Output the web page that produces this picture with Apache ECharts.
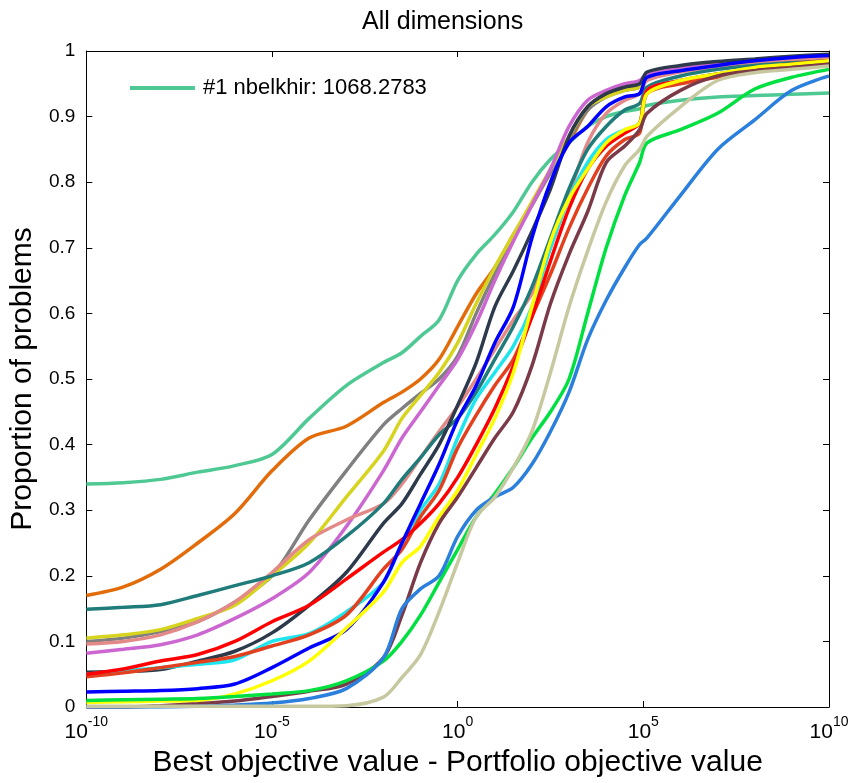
<!DOCTYPE html>
<html>
<head>
  <meta charset="utf-8">
  <title>All dimensions</title>
  <script src="https://cdn.jsdelivr.net/npm/echarts@6/dist/echarts.min.js"></script>
</head>
<body style="margin:0">
  <div id="main" style="width: 853px; height: 783px;"></div>
  <script type="text/javascript">
    // x positions as exponents of 10 (the axis is logarithmic)
    var xExp = [-10, -9, -8, -7, -6, -5, -4, -3, -2, -1.5, -1, -0.5, 0, 0.5, 1, 1.5, 2, 2.5, 3, 3.5, 4, 4.5, 4.9, 5.1, 6, 7, 8, 9, 10];
    var xTicks = [-10, -5, 0, 5, 10];
    var yTicks = ['0', '0.1', '0.2', '0.3', '0.4', '0.5', '0.6', '0.7', '0.8', '0.9', '1'];

    var nbelkhir  = [0.34, 0.342, 0.347, 0.358, 0.368, 0.385, 0.44, 0.49, 0.525, 0.54, 0.565, 0.59, 0.65, 0.69, 0.72, 0.755, 0.8, 0.835, 0.86, 0.885, 0.9, 0.908, 0.912, 0.917, 0.925, 0.93, 0.932, 0.934, 0.936];
    var orange    = [0.17, 0.183, 0.21, 0.25, 0.295, 0.36, 0.41, 0.428, 0.464, 0.48, 0.5, 0.53, 0.58, 0.63, 0.67, 0.72, 0.765, 0.815, 0.86, 0.91, 0.935, 0.945, 0.95, 0.965, 0.975, 0.98, 0.985, 0.988, 0.99];
    var gray      = [0.10, 0.105, 0.115, 0.13, 0.16, 0.2, 0.285, 0.36, 0.43, 0.455, 0.478, 0.5, 0.535, 0.6, 0.66, 0.715, 0.765, 0.815, 0.865, 0.91, 0.93, 0.94, 0.945, 0.962, 0.972, 0.978, 0.983, 0.987, 0.99];
    var olive     = [0.105, 0.11, 0.118, 0.135, 0.155, 0.2, 0.25, 0.32, 0.39, 0.44, 0.475, 0.51, 0.555, 0.615, 0.67, 0.72, 0.77, 0.82, 0.87, 0.915, 0.93, 0.94, 0.945, 0.962, 0.972, 0.978, 0.983, 0.987, 0.99];
    var violet    = [0.082, 0.088, 0.095, 0.11, 0.135, 0.165, 0.205, 0.275, 0.36, 0.41, 0.45, 0.49, 0.53, 0.585, 0.65, 0.71, 0.765, 0.82, 0.885, 0.925, 0.94, 0.95, 0.955, 0.965, 0.975, 0.98, 0.985, 0.988, 0.99];
    var salmon    = [0.096, 0.1, 0.11, 0.13, 0.16, 0.205, 0.255, 0.285, 0.31, 0.34, 0.38, 0.42, 0.458, 0.5, 0.545, 0.59, 0.63, 0.7, 0.78, 0.86, 0.905, 0.925, 0.935, 0.955, 0.968, 0.975, 0.98, 0.985, 0.988];
    var darkTeal  = [0.149, 0.152, 0.156, 0.17, 0.185, 0.2, 0.22, 0.26, 0.31, 0.347, 0.38, 0.415, 0.44, 0.48, 0.53, 0.58, 0.64, 0.715, 0.79, 0.85, 0.885, 0.91, 0.92, 0.945, 0.962, 0.972, 0.978, 0.982, 0.985];
    var slate     = [0.053, 0.054, 0.057, 0.07, 0.085, 0.113, 0.155, 0.205, 0.28, 0.31, 0.355, 0.4, 0.46, 0.525, 0.61, 0.665, 0.725, 0.79, 0.87, 0.915, 0.935, 0.945, 0.95, 0.968, 0.978, 0.984, 0.988, 0.992, 0.995];
    var red       = [0.05, 0.058, 0.07, 0.08, 0.1, 0.13, 0.155, 0.195, 0.236, 0.255, 0.28, 0.31, 0.35, 0.4, 0.455, 0.52, 0.595, 0.68, 0.76, 0.82, 0.855, 0.875, 0.89, 0.94, 0.955, 0.965, 0.973, 0.98, 0.985];
    var cyan      = [0.05, 0.055, 0.06, 0.065, 0.072, 0.1, 0.112, 0.145, 0.19, 0.25, 0.3, 0.34, 0.41, 0.47, 0.51, 0.55, 0.61, 0.7, 0.775, 0.83, 0.865, 0.88, 0.89, 0.94, 0.955, 0.965, 0.972, 0.978, 0.983];
    var redOrange = [0.046, 0.052, 0.06, 0.068, 0.077, 0.093, 0.11, 0.14, 0.21, 0.24, 0.29, 0.33, 0.395, 0.445, 0.49, 0.53, 0.595, 0.66, 0.73, 0.79, 0.84, 0.865, 0.875, 0.935, 0.95, 0.96, 0.97, 0.975, 0.98];
    var blue      = [0.023, 0.024, 0.025, 0.028, 0.035, 0.06, 0.09, 0.118, 0.19, 0.25, 0.31, 0.37, 0.438, 0.49, 0.555, 0.61, 0.715, 0.8, 0.86, 0.885, 0.915, 0.93, 0.935, 0.96, 0.97, 0.978, 0.985, 0.99, 0.993];
    var yellow    = [0.007, 0.008, 0.009, 0.01, 0.02, 0.04, 0.07, 0.12, 0.175, 0.22, 0.245, 0.29, 0.33, 0.385, 0.44, 0.51, 0.61, 0.71, 0.775, 0.82, 0.86, 0.88, 0.89, 0.935, 0.955, 0.965, 0.975, 0.98, 0.985];
    var green     = [0.01, 0.011, 0.012, 0.013, 0.016, 0.02, 0.025, 0.04, 0.07, 0.1, 0.14, 0.19, 0.24, 0.29, 0.325, 0.365, 0.41, 0.45, 0.5, 0.6, 0.7, 0.78, 0.83, 0.86, 0.88, 0.905, 0.942, 0.96, 0.972];
    var maroon    = [0, 0, 0.002, 0.005, 0.009, 0.016, 0.024, 0.035, 0.075, 0.14, 0.22, 0.28, 0.32, 0.365, 0.41, 0.45, 0.52, 0.615, 0.69, 0.755, 0.83, 0.855, 0.88, 0.905, 0.94, 0.962, 0.97, 0.975, 0.98];
    var lightBlue = [0, 0, 0, 0.001, 0.003, 0.006, 0.013, 0.028, 0.075, 0.15, 0.18, 0.2, 0.26, 0.3, 0.32, 0.335, 0.37, 0.42, 0.48, 0.56, 0.62, 0.67, 0.705, 0.715, 0.78, 0.85, 0.895, 0.94, 0.962];
    var khaki     = [0.001, 0.001, 0.001, 0.001, 0.001, 0.001, 0.001, 0.002, 0.015, 0.045, 0.08, 0.145, 0.22, 0.29, 0.32, 0.365, 0.42, 0.51, 0.61, 0.695, 0.77, 0.825, 0.85, 0.87, 0.915, 0.955, 0.967, 0.972, 0.977];

    var legendName = '#1 nbelkhir: 1068.2783';
    var lines = [
      [legendName, nbelkhir, '#4fc993'],
      ['orange', orange, '#e36c0a'],
      ['gray', gray, '#808080'],
      ['olive', olive, '#d6d41e'],
      ['violet', violet, '#cc66d0'],
      ['salmon', salmon, '#e38a88'],
      ['darkTeal', darkTeal, '#1f7c7a'],
      ['slate', slate, '#2d3a4b'],
      ['cyan', cyan, '#1ee6ee'],
      ['redOrange', redOrange, '#e2401e'],
      ['red', red, '#ff0000'],
      ['blue', blue, '#0000ff'],
      ['yellow', yellow, '#ffff00'],
      ['maroon', maroon, '#7b3a48'],
      ['green', green, '#00e040'],
      ['lightBlue', lightBlue, '#2b7fdd'],
      ['khaki', khaki, '#c8c8a0']
    ];

    var font = 'Liberation Sans';
    var myChart = echarts.init(document.getElementById('main'));

    var series = lines.map(function (l) {
      return {
        name: l[0],
        type: 'line',
        symbol: 'none',
        smooth: 0.3,
        color: l[2],
        lineStyle: { width: 3.5, color: l[2] },
        data: xExp.map(function (e, i) { return [e, l[1][i]]; }),
        xAxisIndex: 0,
        yAxisIndex: 0
      };
    });

    var black = { color: '#000', width: 1 };

    myChart.setOption({
      animation: false,
      textStyle: { fontFamily: font },
      title: {
        text: 'All dimensions',
        left: 357,
        top: 5,
        textStyle: { fontFamily: font, fontSize: 25, fontWeight: 'normal', color: '#000' }
      },
      legend: {
        data: [legendName],
        left: 125,
        top: 72,
        icon: 'rect',
        itemWidth: 65,
        itemHeight: 4,
        itemGap: 8,
        textStyle: { fontFamily: font, fontSize: 22, color: '#000', padding: [0, 0, 0, 3] }
      },
      grid: { left: 84, right: 24, top: 51, bottom: 75 },
      xAxis: [{
        type: 'value',
        min: -10,
        max: 10,
        interval: 5,
        position: 'bottom',
        axisLine: { onZero: false, lineStyle: black },
        axisTick: { inside: true, length: 6, lineStyle: black },
        splitLine: { show: false },
        axisLabel: {
          margin: 8,
          color: '#000',
          formatter: function (v) {
            return xTicks.indexOf(v) >= 0 ? '{b|10}{s|' + v + '}' : '';
          },
          rich: {
            b: { fontFamily: font, fontSize: 21, color: '#000', lineHeight: 28, verticalAlign: 'bottom' },
            s: { fontFamily: font, fontSize: 14, color: '#000', lineHeight: 28, verticalAlign: 'top' }
          }
        },
        name: 'Best objective value - Portfolio objective value',
        nameLocation: 'middle',
        nameGap: 41,
        nameTextStyle: { fontFamily: font, fontSize: 30, color: '#000' }
      }, {
        type: 'value',
        min: -10,
        max: 10,
        interval: 5,
        position: 'top',
        axisLine: { onZero: false, lineStyle: black },
        axisTick: { inside: true, length: 6, lineStyle: black },
        axisLabel: { show: false },
        splitLine: { show: false }
      }],
      yAxis: [{
        type: 'value',
        min: 0,
        max: 1,
        interval: 0.1,
        position: 'left',
        axisLine: { show: true, onZero: false, lineStyle: black },
        axisTick: { show: true, inside: true, length: 6, lineStyle: black },
        splitLine: { show: false },
        axisLabel: {
          margin: 11,
          color: '#000',
          fontFamily: font,
          fontSize: 19,
          formatter: function (v) { return yTicks[Math.round(v * 10)]; }
        },
        name: 'Proportion of problems',
        nameLocation: 'middle',
        nameGap: 42,
        nameTextStyle: { fontFamily: font, fontSize: 30, color: '#000' }
      }, {
        type: 'value',
        min: 0,
        max: 1,
        interval: 0.1,
        position: 'right',
        axisLine: { show: true, onZero: false, lineStyle: black },
        axisTick: { show: true, inside: true, length: 6, lineStyle: black },
        axisLabel: { show: false },
        splitLine: { show: false }
      }],
      series: series
    });
  </script>
</body>
</html>
